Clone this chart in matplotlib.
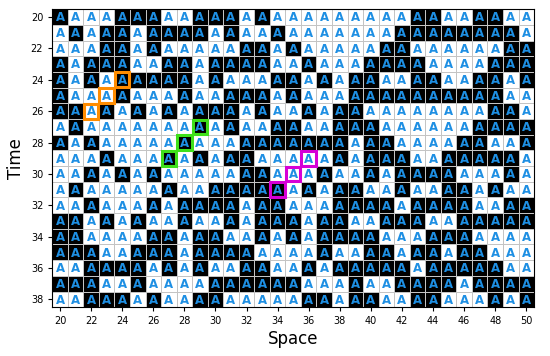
import numpy as np
import matplotlib
matplotlib.use("Agg")
import matplotlib.pyplot as plt
from matplotlib.colors import ListedColormap
from matplotlib.patches import Rectangle

# space positions and time steps
space = list(range(20, 51))
time = list(range(20, 39))

# cell state per time step (B = black cell, W = white cell), space 20..50
states = [
    "BWWWBBBWWBBBWBWWWWWWWWWBBWWBBWW",  # 20
    "WBWBBWBBBBWBWWBWWWWWWWBBBBBBBBW",  # 21
    "WWWBBWBWWWWWBBWBWWWWWBBWWWWWWBB",  # 22
    "BWBBBWWBBWBBBBWWBWWWBBBBWWWWBBB",  # 23
    "BWBWBBBBBWBWWWBBWBWBBWWBBWWBBWB",  # 24
    "BWWWBWWWBWWBBBWBWWWBBBBBBBBBBWW",  # 25
    "BBWBWBWBWBBBWBWWBWBBWWWWWWWWBBW",  # 26
    "WBWWWWWWWBWBWWBBWWBBBWWWWWWBBBB",  # 27
    "BWBWWWWWBWWWBBBBBBBWBBWWWWBBWWB",  # 28
    "WWWBWWWBWBWBBWWWWWBWBBBWWBBBBBW",  # 29
    "WWBWBWBWWWWWBBWWWBWWBWBBBBWWWBW",  # 30
    "WBWWWWWBWWBBBBBWBWBBWWBWWBBWBWW",  # 31
    "WWBWWWBWBBBBWBBWWWBBBBWBBBBWWBB",  # 32
    "BBWBWBWWBWWBWBBBWBBWWBBBWWBBBBB",  # 33
    "BBWWWWBBWBBWWBWBWBBBBWWWBBBWWWW",  # 34
    "BBBWWBBBWBBBBWWWWBWWBBWBBWBBWWW",  # 35
    "WWBBBBWBWBWWBBWWBWBBBBBWBBBBBWW",  # 36
    "BBBWWBWWWWBBBBBBWWWBWWBBBBWBBBB",  # 37
    "WWBBBWBWWBBWWWWWBBWBBWWBBWWWBWB",  # 38
]

# highlighted cells (space, time)
orange_cells = [(22, 26), (23, 25), (24, 24)]
green_cells = [(27, 29), (28, 28), (29, 27)]
magenta_cells = [(34, 31), (35, 30), (36, 29)]

grid = np.array([[1.0 if c == "W" else 0.0 for c in row] for row in states])

fig = plt.figure(figsize=(5.5, 3.56), dpi=100)
ax = fig.add_axes([0.095, 0.137, 0.876, 0.837])

xe = np.arange(space[0] - 0.5, space[-1] + 1.0, 1.0)
ye = np.arange(time[0] - 0.5, time[-1] + 1.0, 1.0)
ax.pcolormesh(xe, ye, grid, cmap=ListedColormap(["black", "white"]),
              edgecolors="#c4c4c4", linewidth=0.6, vmin=0, vmax=1)

for i, t in enumerate(time):
    for j, x in enumerate(space):
        ax.text(x, t + 0.05, "A", ha="center", va="center", color="#1e8fe3",
                fontsize=8.5, fontweight="bold")

for cells, col in [(orange_cells, "#ff8c00"), (green_cells, "#3fe01a"),
                   (magenta_cells, "#d600d6")]:
    for (x, t) in cells:
        ax.add_patch(Rectangle((x - 0.47, t - 0.47), 0.94, 0.94, fill=False,
                               edgecolor=col, linewidth=2.2, zorder=5))

ax.set_xlim(space[0] - 0.5, space[-1] + 0.5)
ax.set_ylim(time[-1] + 0.5, time[0] - 0.5)
ax.set_xticks(range(20, 51, 2))
ax.set_yticks(range(20, 39, 2))
ax.tick_params(labelsize=7, length=3)
ax.set_xlabel("Space", fontsize=12, labelpad=3)
ax.set_ylabel("Time", fontsize=12, labelpad=4)

fig.savefig("out.png", dpi=100)
